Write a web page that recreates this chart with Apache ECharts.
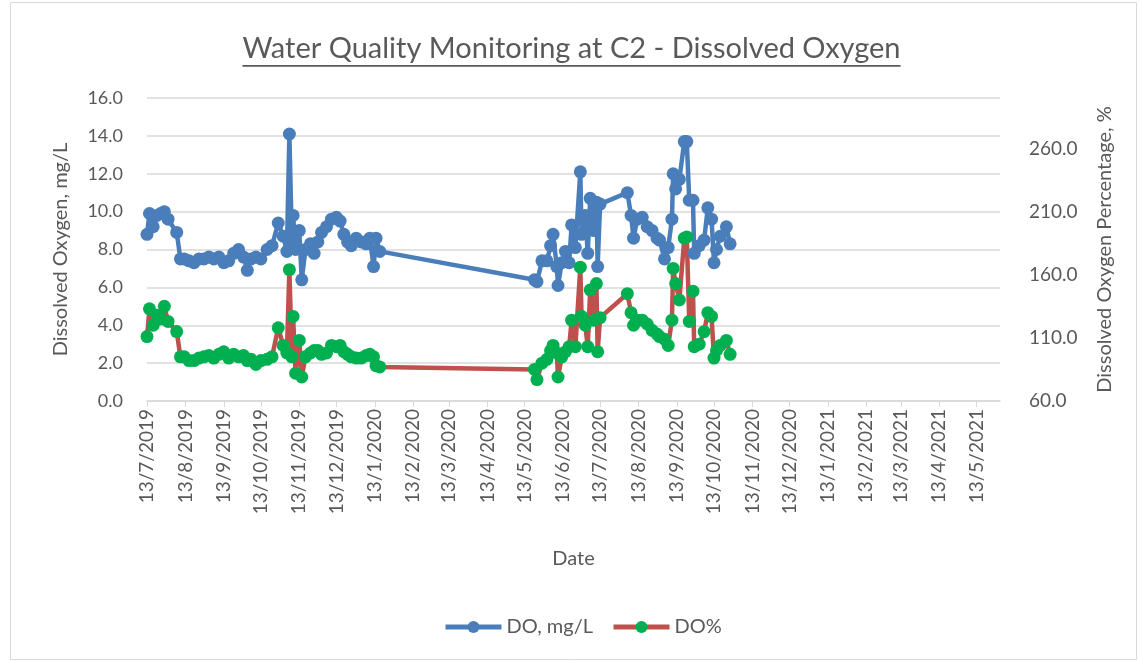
<!DOCTYPE html>
<html>
<head>
<meta charset="utf-8">
<title>Water Quality Monitoring at C2 - Dissolved Oxygen</title>
<script src="https://cdn.jsdelivr.net/npm/echarts@6/dist/echarts.min.js"></script>
<style>
  html, body { margin: 0; padding: 0; background: #ffffff; }
  #chart { width: 1143px; height: 662px; }
</style>
</head>
<body>
<div id="chart"></div>
<script>
// Sampling dates at station C2
const sampleDates = [
  '2019-07-13','2019-07-15','2019-07-18','2019-07-21','2019-07-24','2019-07-27','2019-07-30',
  '2019-08-06','2019-08-09','2019-08-12','2019-08-16','2019-08-20','2019-08-24','2019-08-28',
  '2019-09-01','2019-09-05','2019-09-09','2019-09-13','2019-09-17','2019-09-21','2019-09-25','2019-09-29',
  '2019-10-02','2019-10-05','2019-10-09','2019-10-13','2019-10-18','2019-10-22','2019-10-27','2019-10-31',
  '2019-11-03','2019-11-05','2019-11-07','2019-11-08','2019-11-10','2019-11-13','2019-11-15','2019-11-18',
  '2019-11-22','2019-11-25','2019-11-28','2019-12-01',
  '2019-12-05','2019-12-09','2019-12-13','2019-12-16','2019-12-19','2019-12-22','2019-12-25','2019-12-29','2020-01-02',
  '2020-01-06','2020-01-09','2020-01-12','2020-01-14','2020-01-17',
  '2020-05-21','2020-05-23','2020-05-27','2020-05-31','2020-06-03',
  '2020-06-05','2020-06-08','2020-06-09','2020-06-12','2020-06-15','2020-06-18','2020-06-20','2020-06-23',
  '2020-06-27','2020-06-28','2020-07-01','2020-07-03',
  '2020-07-05','2020-07-08','2020-07-10','2020-07-11','2020-07-13','2020-08-04',
  '2020-08-07','2020-08-09','2020-08-12','2020-08-16','2020-08-20','2020-08-24','2020-08-28','2020-08-30','2020-09-03',
  '2020-09-06','2020-09-09','2020-09-10','2020-09-12','2020-09-15','2020-09-19','2020-09-21','2020-09-23',
  '2020-09-26','2020-09-27','2020-10-01',
  '2020-10-05','2020-10-08','2020-10-11','2020-10-13','2020-10-15','2020-10-18','2020-10-23','2020-10-26'
];

// Dissolved oxygen, mg/L (left axis)
const doMgL = [
  8.8, 9.9, 9.2, 9.8, 9.9, 10.0, 9.6,
  8.9, 7.5, 7.5, 7.4, 7.3, 7.5, 7.5,
  7.6, 7.5, 7.6, 7.3, 7.4, 7.8, 8.0, 7.6,
  6.9, 7.5, 7.6, 7.5, 8.0, 8.2, 9.4, 8.7,
  7.9, 14.1, 8.5, 9.8, 8.0, 9.0, 6.4, 8.0,
  8.3, 7.8, 8.4, 8.9,
  9.2, 9.6, 9.7, 9.5, 8.8, 8.4, 8.2, 8.6, 8.4,
  8.3, 8.6, 7.1, 8.6, 7.9,
  6.4, 6.3, 7.4, 7.4, 8.2,
  8.8, 7.1, 6.1, 7.3, 7.9, 7.3, 9.3, 8.1,
  12.1, 8.8, 9.8, 7.8,
  10.7, 9.0, 10.5, 7.1, 10.4, 11.0,
  9.8, 8.6, 9.6, 9.7, 9.2, 9.0, 8.6, 8.5, 7.5,
  8.1, 9.6, 12.0, 11.2, 11.7, 13.7, 13.7, 10.6,
  10.6, 7.8, 8.2,
  8.5, 10.2, 9.6, 7.3, 8.0, 8.7, 9.2, 8.3
];

// Dissolved oxygen saturation, % (right axis)
const doPct = [
  111, 133, 120, 128, 125, 135, 123,
  115, 95, 95, 92, 92, 94, 95,
  96, 94, 97, 99, 94, 97, 95, 96,
  92, 93, 89, 92, 93, 95, 118, 104,
  98, 164, 95, 127, 82, 108, 79, 95,
  98, 100, 100, 97,
  98, 104, 103, 104, 99, 97, 95, 94, 94,
  96, 97, 95, 88, 87,
  85, 77, 90, 93, 100,
  104, 98, 79, 95, 99, 103, 124, 103,
  166, 127, 120, 103,
  148, 124, 153, 99, 126, 145,
  130, 120, 124, 124, 121, 116, 113, 111, 109,
  104, 124, 165, 153, 140, 189, 190, 123,
  147, 103, 105,
  115, 130, 127, 94, 100, 104, 108, 97
];

// Monthly tick labels on the date axis
const monthTicks = [
  '13/7/2019','13/8/2019','13/9/2019','13/10/2019','13/11/2019','13/12/2019',
  '13/1/2020','13/2/2020','13/3/2020','13/4/2020','13/5/2020','13/6/2020',
  '13/7/2020','13/8/2020','13/9/2020','13/10/2020','13/11/2020','13/12/2020',
  '13/1/2021','13/2/2021','13/3/2021','13/4/2021','13/5/2021'
];
const dateAxisEnd = '2021-06-01';

const TEXT = '#595959';
const GRID = '#d9d9d9';
const FONT = 'Lato, "Open Sans", sans-serif';

function isoToTime(s) {
  const [y, m, d] = s.split('-').map(Number);
  return new Date(y, m - 1, d).getTime();
}
function dmyToTime(s) {
  const [d, m, y] = s.split('/').map(Number);
  return new Date(y, m - 1, d).getTime();
}
function fmtDMY(v) {
  const d = new Date(v);
  return d.getDate() + '/' + (d.getMonth() + 1) + '/' + d.getFullYear();
}

const tickTimes = monthTicks.map(dmyToTime);
const doSeries = sampleDates.map((s, i) => [isoToTime(s), doMgL[i]]);
const pctSeries = sampleDates.map((s, i) => [isoToTime(s), doPct[i]]);

const titleText = 'Water Quality Monitoring at C2 - Dissolved Oxygen';
const titleSize = 29;
const measure = document.createElement('canvas').getContext('2d');
measure.font = titleSize + 'px ' + FONT;
const titleWidth = measure.measureText(titleText).width;

const chart = echarts.init(document.getElementById('chart'), null, { renderer: 'canvas' });

chart.setOption({
  backgroundColor: '#ffffff',
  animation: false,
  textStyle: { fontFamily: FONT, color: TEXT },
  title: {
    text: titleText,
    left: 'center',
    top: 29,
    textStyle: { fontFamily: FONT, fontSize: titleSize, fontWeight: 'normal', color: TEXT }
  },
  graphic: [
    {
      type: 'rect',
      left: 'center',
      top: 65,
      shape: { width: titleWidth, height: 1.8 },
      style: { fill: TEXT },
      silent: true
    },
    {
      type: 'rect',
      left: 8, top: 0,
      shape: { width: 1126, height: 657 },
      style: { fill: 'none', stroke: GRID, lineWidth: 1 },
      silent: true,
      z: -10
    }
  ],
  grid: { left: 147, right: 143, top: 98, bottom: 261, containLabel: false },
  legend: {
    left: 438,
    top: 612,
    itemWidth: 56,
    itemHeight: 15,
    itemGap: 18,
    lineStyle: { width: 5 },
    textStyle: { fontFamily: FONT, fontSize: 20, color: TEXT },
    data: ['DO, mg/L', 'DO%']
  },
  xAxis: {
    type: 'value',
    min: tickTimes[0],
    max: isoToTime(dateAxisEnd),
    name: 'Date',
    nameLocation: 'middle',
    nameGap: 148,
    nameTextStyle: { fontFamily: FONT, fontSize: 20, color: TEXT },
    axisLine: { show: true, lineStyle: { color: GRID, width: 1.5 } },
    axisTick: { show: true, customValues: tickTimes, length: 6, lineStyle: { color: GRID } },
    axisLabel: {
      customValues: tickTimes,
      rotate: 90,
      margin: 8,
      fontFamily: FONT,
      fontSize: 19,
      color: TEXT,
      formatter: fmtDMY
    },
    splitLine: { show: false }
  },
  yAxis: [
    {
      type: 'value',
      min: 0, max: 16, interval: 2,
      name: 'Dissolved Oxygen, mg/L',
      nameLocation: 'middle',
      nameGap: 76,
      nameRotate: 90,
      nameTextStyle: { fontFamily: FONT, fontSize: 20, color: TEXT },
      axisLine: { show: false },
      axisTick: { show: false },
      axisLabel: { fontFamily: FONT, fontSize: 18, color: TEXT, margin: 24, formatter: v => v.toFixed(1) },
      splitLine: { show: true, lineStyle: { color: GRID, width: 1.5 } }
    },
    {
      type: 'value',
      position: 'right',
      min: 60, max: 300, interval: 50,
      name: 'Dissolved Oxygen Percentage, %',
      nameLocation: 'middle',
      nameGap: 95,
      nameRotate: 90,
      nameTextStyle: { fontFamily: FONT, fontSize: 20, color: TEXT },
      axisLine: { show: false },
      axisTick: { show: false },
      axisLabel: { fontFamily: FONT, fontSize: 19, color: TEXT, margin: 29, showMaxLabel: false, formatter: v => v.toFixed(1) },
      splitLine: { show: false }
    }
  ],
  series: [
    {
      name: 'DO, mg/L',
      type: 'line',
      yAxisIndex: 0,
      data: doSeries,
      symbol: 'circle',
      symbolSize: 13,
      lineStyle: { color: '#4A7EBB', width: 4.5 },
      itemStyle: { color: '#4A7EBB' }
    },
    {
      name: 'DO%',
      type: 'line',
      yAxisIndex: 1,
      data: pctSeries,
      symbol: 'circle',
      symbolSize: 13,
      lineStyle: { color: '#C0504D', width: 4.5 },
      itemStyle: { color: '#00B050' }
    }
  ]
});
</script>
</body>
</html>
